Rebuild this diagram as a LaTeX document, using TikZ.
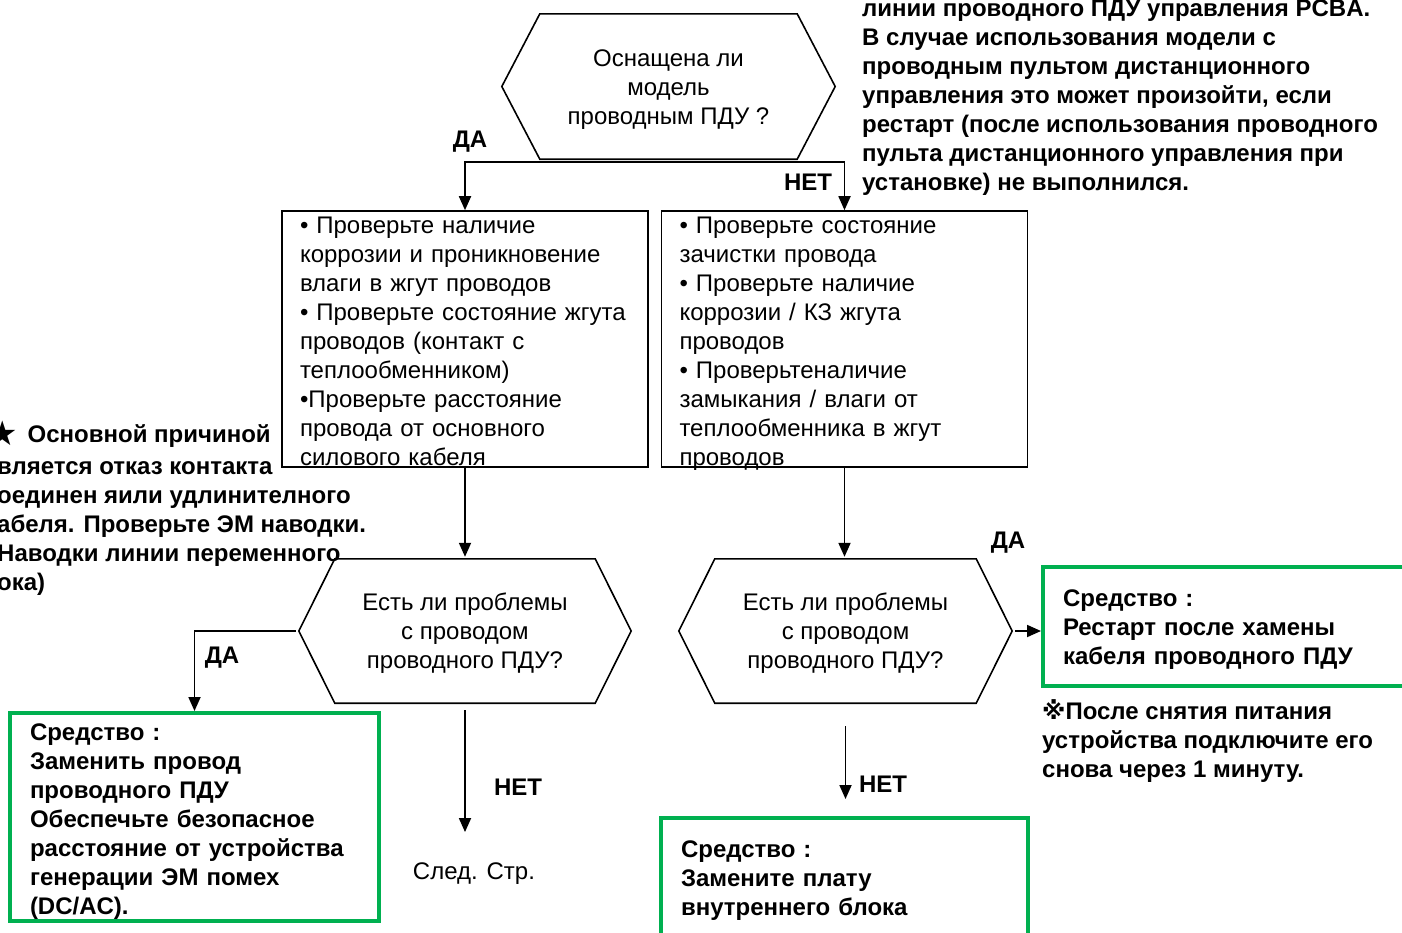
\documentclass[tikz,border=0pt]{standalone}
\usepackage{fontspec}
\setmainfont{Liberation Sans}
\newfontfamily\symfont{DejaVu Sans}
\usetikzlibrary{arrows.meta,positioning}
\definecolor{fixGreen}{RGB}{0, 176, 80}

% hexagon outline around a decision node: #1 node name, #2 corner cut
\newcommand\hexframe[2]{%
    \draw[line width=1.6pt, line join=miter] (#1.west) -- ([xshift=#2]#1.north west)
        -- ([xshift=-#2]#1.north east) -- (#1.east)
        -- ([xshift=-#2]#1.south east) -- ([xshift=#2]#1.south west) -- cycle;}

\begin{document}
\begin{tikzpicture}[
    x=1pt, y=-1pt,
    font=\fontsize{24}{29}\selectfont,
    % Decision Node Style (outline drawn by \hexframe)
    decisionNode/.style={
        rectangle,
        minimum width=333pt,
        minimum height=145pt,
        inner sep=0pt,
        text height=75pt,
        text depth=0pt,
        align=center
    },
    % Check List Box Style
    checkBox/.style={
        draw,
        line width=1.6pt,
        minimum width=366pt,
        minimum height=256pt,
        text width=330pt,
        text height=22.5pt,
        text depth=233.5pt,
        inner xsep=18pt,
        inner ysep=0pt,
        align=left
    },
    % Remedy Box Style
    fixBox/.style={
        draw=fixGreen,
        line width=4pt,
        inner xsep=20pt,
        inner ysep=0pt,
        align=left,
        font=\fontsize{24}{29}\selectfont\bfseries
    },
    % Yes / No Label Style
    answerLabel/.style={
        anchor=base,
        inner sep=0pt,
        font=\fontsize{24}{29}\selectfont\bfseries
    },
    % Free Note Style
    noteText/.style={
        inner sep=0pt,
        align=left,
        font=\fontsize{24}{29}\selectfont\bfseries
    },
    % Flow Arrow Style
    flowArrow/.style={
        -{Triangle[length=14pt,width=12pt]},
        line width=1.8pt
    }
]

    \useasboundingbox (0,0) rectangle (1402,932);

    % Decision nodes
    \node[decisionNode, text height=76pt] (q1) at (668.5,86.5) {Оснащена ли\\модель\\проводным ПДУ ?};
    \hexframe{q1}{38pt}

    \node[decisionNode, minimum width=332pt, minimum height=144pt] (q2) at (465,631)
        {Есть ли проблемы\\с проводом\\проводного ПДУ?};
    \hexframe{q2}{36pt}

    \node[decisionNode, minimum height=144pt] (q3) at (845.5,631)
        {Есть ли проблемы\\с проводом\\проводного ПДУ?};
    \hexframe{q3}{36pt}

    % Check lists
    \node[checkBox] (chk1) at (465,339) {%
        • Проверьте наличие\\
        коррозии и проникновение\\
        влаги в жгут проводов\\
        • Проверьте состояние жгута\\
        проводов (контакт с\\
        теплообменником)\\
        •Проверьте расстояние\\
        провода от основного\\
        силового кабеля};

    \node[checkBox] (chk2) at (844.5,339) {%
        • Проверьте состояние\\
        зачистки провода\\
        • Проверьте наличие\\
        коррозии / КЗ жгута\\
        проводов\\
        • Проверьтеналичие\\
        замыкания / влаги от\\
        теплообменника в жгут\\
        проводов};

    % Remedies
    \node[fixBox, minimum width=369pt, minimum height=208pt, text width=329pt,
          text height=27.5pt, text depth=180.5pt] (fix1) at (194.5,817) {%
        Средство :\\
        Заменить провод\\
        проводного ПДУ\\
        Обеспечьте безопасное\\
        расстояние от устройства\\
        генерации ЭМ помех\\
        (DC/AC).};

    \node[fixBox, anchor=west, minimum width=372pt, minimum height=119pt, text width=332pt,
          text height=39.5pt, text depth=79.5pt] (fix2) at (1041,626.5) {%
        Средство :\\
        Рестарт после хамены\\
        кабеля проводного ПДУ};

    \node[fixBox, minimum width=367pt, minimum height=118pt, text width=327pt,
          text height=39.5pt, text depth=78.5pt] (fix3) at (844.5,877) {%
        Средство :\\
        Замените плату\\
        внутреннего блока};

    \node[inner sep=0pt, anchor=base] (nextPg) at (474,879) {След. Стр.};

    % Notes
    \node[noteText, anchor=north west] (topNote) at (862,0) {%
        линии проводного ПДУ управления PCBA.\\
        В случае использования модели с\\
        проводным пультом дистанционного\\
        управления это может произойти, если\\
        рестарт (после использования проводного\\
        пульта дистанционного управления при\\
        установке) не выполнился.};

    \node[noteText, anchor=north west] (causeNote) at (-3,421) {%
        \hspace*{-10pt}\raisebox{-3pt}{\symfont\fontsize{34}{29}\selectfont ★}\hspace{10pt}Основной причиной\\[3pt]
        вляется отказ контакта\\
        оединен яили удлинителного\\
        абеля. Проверьте ЭМ наводки.\\
        Наводки линии переменного\\
        ока)};

    \node[noteText, anchor=north west] (powerNote) at (1042,699) {%
        {\symfont ※}После снятия питания\\
        устройства подключите его\\
        снова через 1 минуту.};

    % Yes / No labels
    \node[answerLabel] (yes1) at (470,147.5) {ДА};
    \node[answerLabel] (no1) at (808,190.5) {НЕТ};
    \node[answerLabel] (yes2) at (222,663.5) {ДА};
    \node[answerLabel] (no2) at (518,795.5) {НЕТ};
    \node[answerLabel] (yes3) at (1008,548.5) {ДА};
    \node[answerLabel] (no3) at (883,792.5) {НЕТ};

    % Connectors
    \draw[flowArrow] ([yshift=-3pt]q1.south) -| (chk1.north);
    \draw[flowArrow] ([yshift=-3pt]q1.south) -| (chk2.north);
    \draw[flowArrow, shorten >=2pt] (chk1.south) -- (chk1.south |- q2.north);
    \draw[flowArrow, shorten >=2pt] (chk2.south) -- (chk2.south |- q3.north);
    \draw[flowArrow, shorten <=3pt] (q2.west) -| (fix1.north);
    \draw[flowArrow, shorten <=7pt, shorten >=30pt] (q2.south) -- (q2.south |- nextPg.north);
    \draw[flowArrow, shorten <=3pt] (q3.east) -- (q3.east -| fix2.west);
    \draw[flowArrow, shorten <=23pt, shorten >=17pt] (q3.south) -- (q3.south |- fix3.north);

\end{tikzpicture}
\end{document}
